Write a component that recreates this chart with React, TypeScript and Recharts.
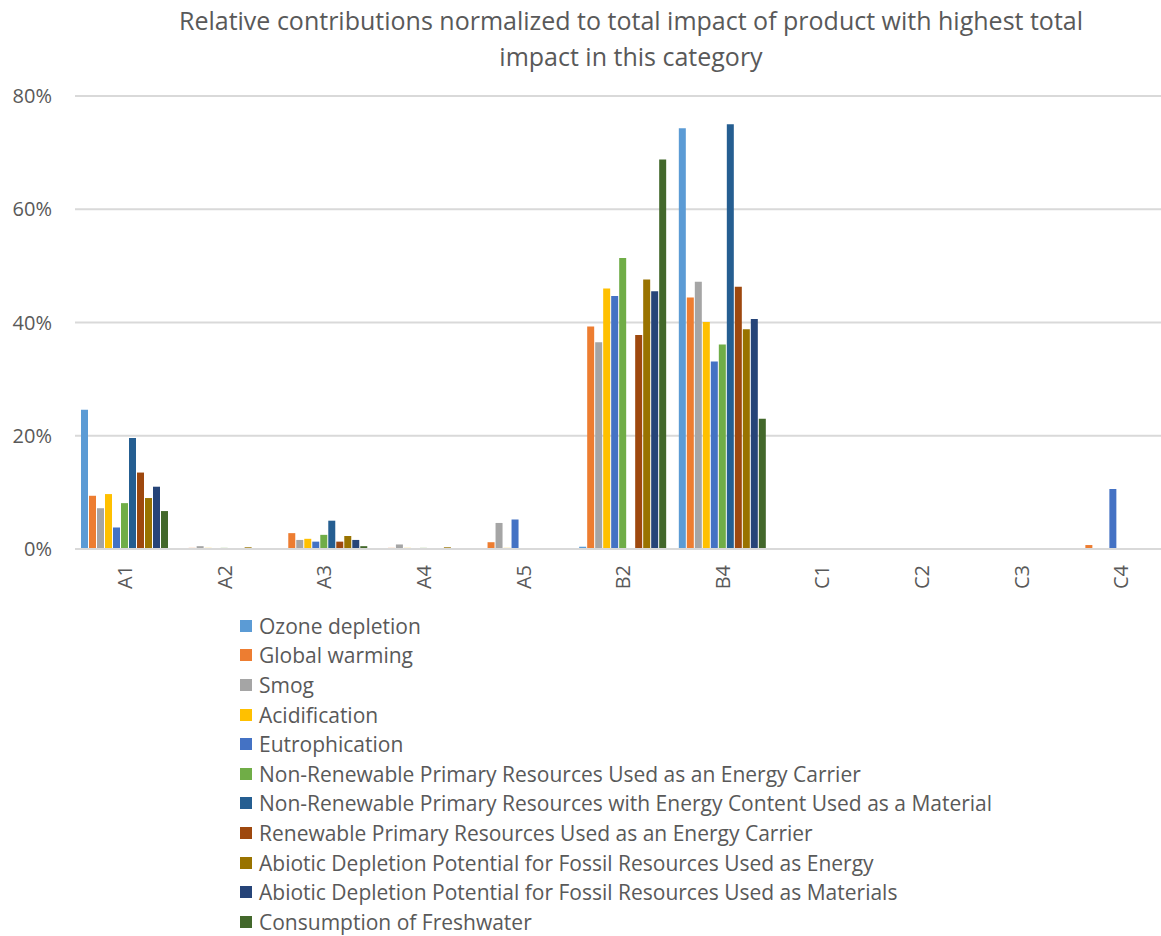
import React from "react";
import { BarChart, Bar, XAxis, YAxis, CartesianGrid } from "recharts";

const categories = ["A1", "A2", "A3", "A4", "A5", "B2", "B4", "C1", "C2", "C3", "C4"];

const seriesNames = [
  "Ozone depletion",
  "Global warming",
  "Smog",
  "Acidification",
  "Eutrophication",
  "Non-Renewable Primary Resources Used as an Energy Carrier",
  "Non-Renewable Primary Resources with Energy Content Used as a Material",
  "Renewable Primary Resources Used as an Energy Carrier",
  "Abiotic Depletion Potential for Fossil Resources Used as Energy",
  "Abiotic Depletion Potential for Fossil Resources Used as Materials",
  "Consumption of Freshwater",
];

const seriesColors = [
  "#5B9BD5",
  "#ED7D31",
  "#A5A5A5",
  "#FFC000",
  "#4472C4",
  "#70AD47",
  "#255E91",
  "#9E480E",
  "#997300",
  "#264478",
  "#43682B",
];

// values in % per category (A1..C4)
const ozoneDepletion = [24.6, 0, 0, 0, 0, 0.4, 74.3, 0, 0, 0, 0];
const globalWarming = [9.4, 0.2, 2.8, 0.2, 1.2, 39.3, 44.4, 0, 0, 0, 0.7];
const smog = [7.2, 0.5, 1.6, 0.8, 4.6, 36.5, 47.2, 0, 0, 0, 0];
const acidification = [9.7, 0.2, 1.8, 0.2, 0.2, 46.0, 40.1, 0, 0, 0, 0];
const eutrophication = [3.8, 0, 1.3, 0, 5.2, 44.7, 33.1, 0, 0, 0, 10.6];
const nonRenEnergy = [8.1, 0.2, 2.5, 0.2, 0, 51.4, 36.1, 0, 0, 0, 0];
const nonRenMaterial = [19.6, 0, 5.0, 0, 0, 0, 75.0, 0, 0, 0, 0];
const renewableEnergy = [13.5, 0, 1.3, 0, 0, 37.8, 46.3, 0, 0, 0, 0];
const adpEnergy = [9.0, 0.3, 2.3, 0.3, 0, 47.6, 38.8, 0, 0, 0, 0];
const adpMaterials = [11.0, 0, 1.6, 0, 0, 45.5, 40.6, 0, 0, 0, 0];
const freshwater = [6.7, 0, 0.5, 0, 0, 68.8, 23.0, 0, 0, 0, 0];

const seriesValues = [
  ozoneDepletion,
  globalWarming,
  smog,
  acidification,
  eutrophication,
  nonRenEnergy,
  nonRenMaterial,
  renewableEnergy,
  adpEnergy,
  adpMaterials,
  freshwater,
];

const yTicks = [0, 20, 40, 60, 80];

const titleLines = [
  "Relative contributions normalized to total impact of product with highest total",
  "impact in this category",
];

const data = categories.map((c, i) => {
  const row: Record<string, number | string> = { name: c };
  seriesValues.forEach((vals, s) => {
    row["s" + s] = vals[i];
  });
  return row;
});

const FONT = "'Open Sans', sans-serif";
const TEXT = "#595959";

const XTick = (props: any) => {
  const { x, y, payload } = props;
  return (
    <g transform={`translate(${x},${y})`}>
      <text
        transform="rotate(-90)"
        textAnchor="end"
        dy="0.36em"
        fill={TEXT}
        fontSize={20}
        fontFamily={FONT}
      >
        {payload.value}
      </text>
    </g>
  );
};

export default function App() {
  return (
    <div
      style={{
        position: "absolute",
        left: 0,
        top: 0,
        width: 1161,
        height: 936,
        overflow: "hidden",
        background: "#fff",
        fontFamily: FONT,
      }}
    >
      <div
        style={{
          position: "absolute",
          left: 81,
          top: 2,
          width: 1100,
          textAlign: "center",
          color: TEXT,
          fontSize: 25,
          lineHeight: "36px",
          whiteSpace: "nowrap",
        }}
      >
        {titleLines.map((t, i) => (
          <div key={i}>{t}</div>
        ))}
      </div>
      <div style={{ position: "absolute", left: 0, top: 0 }}>
        <BarChart
          width={1171}
          height={600}
          data={data}
          margin={{ top: 96, right: 0, left: 0, bottom: 0 }}
          barGap={1}
          barCategoryGap={6}
        >
          <CartesianGrid vertical={false} stroke="#D9D9D9" strokeWidth={2} />
          <XAxis
            dataKey="name"
            height={51}
            tickLine={false}
            axisLine={{ stroke: "#D9D9D9", strokeWidth: 2 }}
            tickSize={0}
            tickMargin={16}
            tick={<XTick />}
            interval={0}
          />
          <YAxis
            width={75}
            domain={[0, 80]}
            ticks={yTicks}
            axisLine={false}
            tickLine={false}
            tickSize={0}
            tickMargin={23}
            tickFormatter={(v: number) => v + "%"}
            tick={{ fill: TEXT, fontSize: 20, fontFamily: FONT }}
          />
          {seriesNames.map((n, s) => (
            <Bar
              key={n}
              dataKey={"s" + s}
              name={n}
              fill={seriesColors[s]}
              isAnimationActive={false}
            />
          ))}
        </BarChart>
      </div>
      <div style={{ position: "absolute", left: 240, top: 611 }}>
        {seriesNames.map((n, s) => (
          <div
            key={n}
            style={{
              height: 29.6,
              display: "flex",
              alignItems: "center",
              color: TEXT,
              fontSize: 21,
              whiteSpace: "nowrap",
            }}
          >
            <span
              style={{
                display: "inline-block",
                width: 12,
                height: 12,
                background: seriesColors[s],
                marginRight: 7,
              }}
            />
            {n}
          </div>
        ))}
      </div>
    </div>
  );
}
